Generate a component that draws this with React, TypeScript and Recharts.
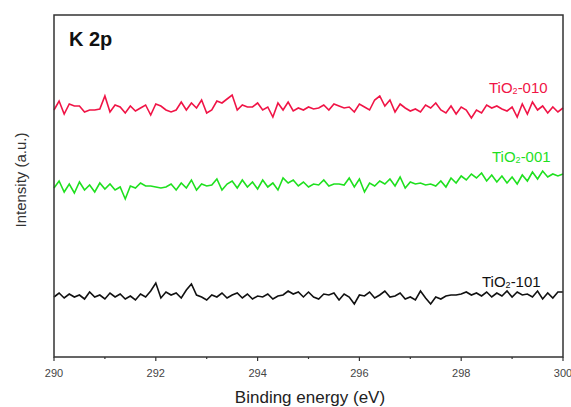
import { LineChart, Line, XAxis, YAxis } from "recharts";

// binding energy grid, 0.1 eV steps from 290 to 300
const energies: number[] = Array.from({ length: 101 }, (_, i) => Math.round((290 + i * 0.1) * 10) / 10);

const tio2_010 = [
  247, 256, 243, 253, 251, 251, 245, 247, 247, 248,
  261, 245, 252, 250, 244, 251, 246, 249, 252, 242,
  253, 251, 247, 245, 247, 255, 247, 254, 249, 257,
  244, 247, 256, 254, 258, 262, 247, 252, 250, 250,
  254, 247, 250, 240, 254, 247, 255, 246, 249, 247,
  250, 248, 249, 252, 247, 253, 251, 249, 250, 245,
  253, 250, 247, 257, 261, 251, 257, 245, 253, 249,
  246, 248, 245, 252, 249, 254, 247, 244, 251, 243,
  250, 247, 239, 247, 244, 252, 249, 251, 248, 246,
  250, 240, 253, 243, 255, 247, 251, 244, 250, 245,
  249,
];

const tio2_001 = [
  169, 176, 165, 173, 164, 175, 167, 172, 165, 174,
  168, 173, 167, 170, 158, 171, 169, 174, 171, 171,
  170, 169, 170, 173, 167, 174, 169, 177, 167, 173,
  171, 172, 178, 167, 173, 176, 169, 177, 170, 175,
  168, 177, 170, 174, 167, 179, 174, 177, 171, 175,
  170, 173, 172, 177, 171, 173, 173, 172, 179, 170,
  178, 165, 174, 171, 176, 173, 178, 171, 180, 169,
  175, 173, 174, 172, 173, 171, 176, 170, 179, 174,
  181, 177, 183, 179, 184, 176, 182, 175, 181, 174,
  180, 173, 182, 176, 185, 178, 186, 180, 183, 181,
  183,
];

const tio2_101 = [
  60, 64, 59, 63, 60, 62, 58, 65, 60, 62,
  58, 64, 60, 63, 58, 61, 57, 63, 60, 66,
  74, 59, 65, 62, 64, 59, 67, 73, 62, 60,
  57, 62, 60, 64, 59, 62, 64, 59, 63, 58,
  61, 60, 63, 58, 61, 62, 66, 63, 65, 60,
  65, 60, 58, 63, 62, 64, 57, 63, 60, 53,
  62, 61, 65, 59, 62, 66, 60, 61, 64, 58,
  60, 57, 66, 59, 53, 60, 58, 61, 62, 62,
  63, 65, 62, 64, 61, 65, 60, 64, 61, 66,
  60, 65, 62, 63, 60, 66, 58, 64, 59, 65,
  65,
];

const xTicks = [290, 291, 292, 293, 294, 295, 296, 297, 298, 299, 300];

const data = energies.map((e, i) => ({
  energy: e,
  s010: tio2_010[i],
  s001: tio2_001[i],
  s101: tio2_101[i],
}));

const RED = "#f01446";
const GREEN = "#1fe01f";
const FRAME = "#333";
const MARGIN = { top: 15, right: 8, left: 54, bottom: 20 };
const W = 571;
const H = 407;
const X_AXIS_H = 30;

const EnergyTick = (props: any) => {
  const { x, y, payload } = props;
  const major = payload.value % 2 === 0;
  return (
    <g>
      <line x1={x} x2={x} y1={y} y2={y + (major ? 4 : 2)} stroke={FRAME} strokeWidth={1.2} />
      {major && (
        <text x={x} y={y + 20} textAnchor="middle" fontSize={11} fill="#444" fontFamily="Liberation Sans, Arial, sans-serif">
          {payload.value}
        </text>
      )}
    </g>
  );
};

const SeriesLabel = ({ x, y, color, suffix }: { x: number; y: number; color: string; suffix: string }) => (
  <text x={x} y={y} fontSize={15} fill={color} fontFamily="Liberation Sans, Arial, sans-serif">
    TiO<tspan fontSize={9} dy={1}>2</tspan>
    <tspan dy={-1}>{suffix}</tspan>
  </text>
);

export default function App() {
  return (
    <div style={{ position: "absolute", left: 0, top: 0, width: W, height: H, background: "#fff" }}>
      <LineChart width={W} height={H} data={data} margin={MARGIN}>
        <XAxis
          dataKey="energy"
          type="number"
          domain={[290, 300]}
          ticks={xTicks}
          interval={0}
          height={X_AXIS_H}
          tickSize={0}
          tickMargin={0}
          tickLine={false}
          tick={<EnergyTick />}
          axisLine={false}
        />
        <YAxis type="number" domain={[0, 342]} width={0} tick={false} tickLine={false} axisLine={false} />
        <Line dataKey="s010" stroke={RED} strokeWidth={1.6} dot={false} isAnimationActive={false} />
        <Line dataKey="s001" stroke={GREEN} strokeWidth={1.6} dot={false} isAnimationActive={false} />
        <Line dataKey="s101" stroke="#111" strokeWidth={1.6} dot={false} isAnimationActive={false} />
      </LineChart>
      <svg width={W} height={H} style={{ position: "absolute", left: 0, top: 0, pointerEvents: "none" }}>
        {/* plot frame */}
        <rect
          x={MARGIN.left}
          y={MARGIN.top}
          width={W - MARGIN.left - MARGIN.right}
          height={H - MARGIN.top - MARGIN.bottom - X_AXIS_H}
          fill="none"
          stroke={FRAME}
          strokeWidth={1.5}
        />
        <text x={69} y={46} fontSize={20} fontWeight="bold" fill="#111" fontFamily="Liberation Sans, Arial, sans-serif">
          K 2p
        </text>
        <text
          x={180}
          y={26}
          transform="rotate(-90 0 0) translate(-360 0)"
          textAnchor="middle"
          fontSize={15}
          fill="#333"
          fontFamily="Liberation Sans, Arial, sans-serif"
        >
          Intensity (a.u.)
        </text>
        <text x={310} y={403} textAnchor="middle" fontSize={17} fill="#222" fontFamily="Liberation Sans, Arial, sans-serif">
          Binding energy (eV)
        </text>
        <SeriesLabel x={489} y={93} color={RED} suffix="-010" />
        <SeriesLabel x={492} y={162} color={GREEN} suffix="-001" />
        <SeriesLabel x={482} y={287} color="#111" suffix="-101" />
      </svg>
    </div>
  );
}
